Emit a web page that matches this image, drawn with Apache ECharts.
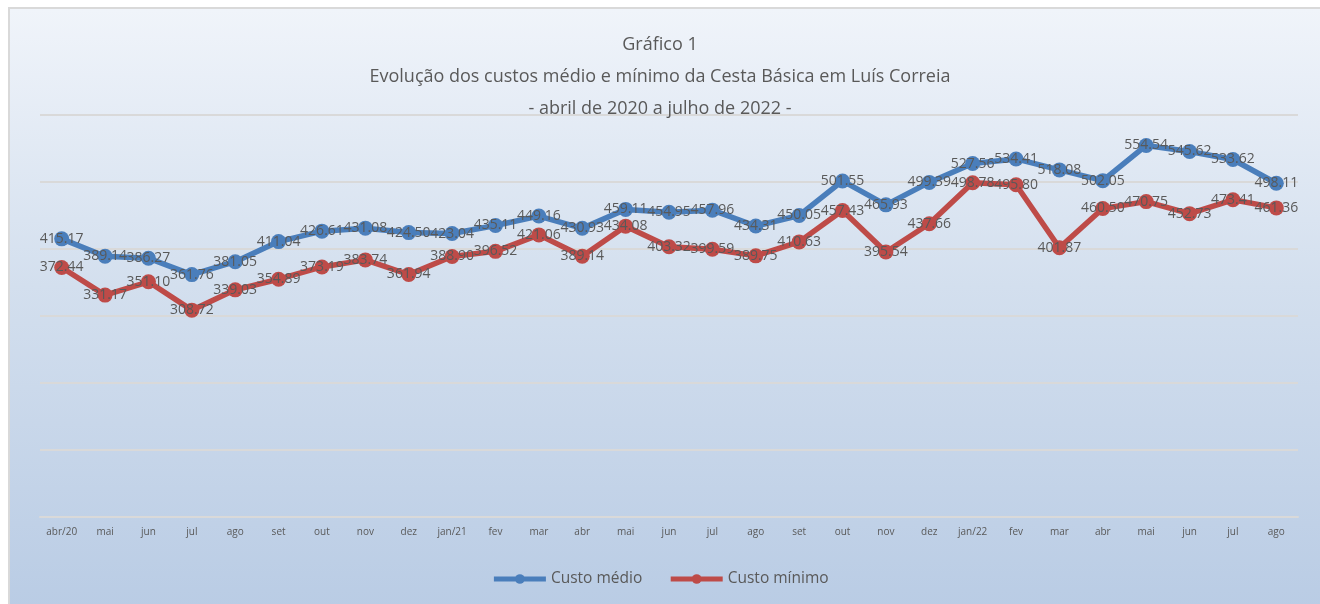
<!DOCTYPE html>
<html>
<head>
<meta charset="utf-8">
<script src="https://cdn.jsdelivr.net/npm/echarts@6/dist/echarts.min.js"></script>
<style>
  html, body { margin: 0; padding: 0; background: #fff; overflow: hidden; }
  .frame {
    position: absolute; left: 8px; top: 7px; width: 1330px; height: 620px;
    border: 2px solid #d9d9d9; box-sizing: border-box;
    background: linear-gradient(to bottom, #f0f4fa 0%, #d3dfee 45%, #b8cbe4 100%);
  }
  .grafico { position: absolute; left: 0; top: 0; width: 1320px; height: 604px; }
</style>
</head>
<body>
<div class="frame"></div>
<div class="grafico"></div>
<script>
// meses (abr/2020 a ago/2022)
var meses = ["abr/20","mai","jun","jul","ago","set","out","nov","dez",
  "jan/21","fev","mar","abr","mai","jun","jul","ago","set","out","nov","dez",
  "jan/22","fev","mar","abr","mai","jun","jul","ago"];

// custo médio
var custoMedio = [415.17, 389.14, 386.27, 361.76, 381.05, 411.04, 426.61, 431.08, 424.50,
  423.04, 435.11, 449.16, 430.93, 459.11, 454.95, 457.96, 434.31, 450.05, 501.55, 465.93, 499.39,
  527.56, 534.41, 518.08, 502.05, 554.54, 545.62, 533.62, 498.11];

// custo mínimo
var custoMinimo = [372.44, 331.17, 351.10, 308.72, 339.03, 354.89, 373.19, 383.74, 361.94,
  388.90, 396.52, 421.06, 389.14, 434.08, 403.32, 399.59, 389.75, 410.63, 457.43, 395.54, 437.66,
  498.78, 495.80, 401.87, 460.50, 470.75, 452.73, 473.41, 461.36];

var fonte = '"Open Sans", "Noto Sans", sans-serif';
var cinza = '#595959';

var grafico = echarts.init(document.querySelector(".grafico"));

function serie(nome, dados, cor) {
  return {
    name: nome,
    type: 'line',
    data: dados,
    symbol: 'circle',
    symbolSize: 15,
    lineStyle: { width: 5.5, color: cor },
    itemStyle: { color: cor },
    label: {
      show: true,
      position: 'inside',
      color: cinza,
      fontFamily: fonte,
      fontSize: 14,
      formatter: function (p) { return p.value.toFixed(2); }
    }
  };
}

var option = {
  animation: false,
  title: {
    text: 'Gráfico 1\nEvolução dos custos médio e mínimo da Cesta Básica em Luís Correia\n- abril de 2020 a julho de 2022 -',
    left: 'center',
    top: 24,
    textStyle: { color: cinza, fontFamily: fonte, fontSize: 18, fontWeight: 'normal', lineHeight: 32 }
  },
  legend: {
    bottom: 12,
    left: 'center',
    itemWidth: 52,
    itemHeight: 12,
    itemGap: 26,
    lineStyle: { width: 5 },
    textStyle: { color: cinza, fontFamily: fonte, fontSize: 15.5 },
    data: ['Custo médio', 'Custo mínimo']
  },
  grid: { left: 40, right: 22, top: 115, bottom: 87 },
  xAxis: {
    type: 'category',
    data: meses,
    boundaryGap: true,
    axisLine: { lineStyle: { color: '#d9d9d9', width: 2 } },
    axisTick: { show: false },
    axisLabel: { color: cinza, fontFamily: fonte, fontSize: 10, margin: 10, interval: 0 }
  },
  yAxis: {
    type: 'value',
    min: 0,
    max: 600,
    interval: 100,
    axisLabel: { show: false },
    axisLine: { show: false },
    axisTick: { show: false },
    splitLine: { lineStyle: { color: '#d9d9d9', width: 2 } }
  },
  series: [
    serie('Custo médio', custoMedio, '#4a7ebb'),
    serie('Custo mínimo', custoMinimo, '#be4b48')
  ]
};

grafico.setOption(option);
</script>
</body>
</html>
